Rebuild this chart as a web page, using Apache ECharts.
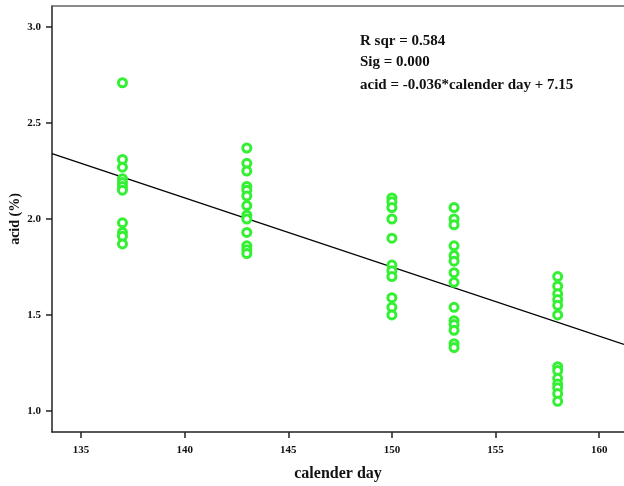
<!DOCTYPE html>
<html>
<head>
<meta charset="utf-8">
<script src="https://cdn.jsdelivr.net/npm/echarts@6/dist/echarts.min.js"></script>
<style>html,body{margin:0;padding:0;background:#fff}#c{width:624px;height:486px}</style>
</head>
<body>
<div id="c"></div>
<script>
const xTicks = [135, 140, 145, 150, 155, 160];
const yTicks = [1.0, 1.5, 2.0, 2.5, 3.0];
const day137 = [2.71, 2.31, 2.27, 2.21, 2.19, 2.17, 2.15, 1.98, 1.93, 1.91, 1.87];
const day143 = [2.37, 2.29, 2.25, 2.17, 2.15, 2.12, 2.07, 2.02, 2.00, 1.93, 1.86, 1.84, 1.82];
const day150 = [2.11, 2.09, 2.06, 2.00, 1.90, 1.76, 1.73, 1.70, 1.59, 1.54, 1.50];
const day153 = [2.06, 2.00, 1.97, 1.86, 1.81, 1.78, 1.72, 1.67, 1.54, 1.47, 1.45, 1.42, 1.35, 1.33];
const day158 = [1.70, 1.65, 1.61, 1.58, 1.55, 1.50, 1.23, 1.21, 1.17, 1.14, 1.12, 1.09, 1.05];
const groups = [[137, day137], [143, day143], [150, day150], [153, day153], [158, day158]];
const slope = -0.036, intercept = 7.15;
const xMin = 133.6, xMax = 161.2, yMin = 0.89, yMax = 3.11;

const points = [];
groups.forEach(([d, vals]) => vals.forEach(v => points.push([d, v])));
const fitLine = [[xMin, slope * xMin + intercept], [xMax, slope * xMax + intercept]];

const font = '"Liberation Serif", "Times New Roman", serif';
const chart = echarts.init(document.getElementById('c'), null, {renderer: 'canvas'});
chart.setOption({
  animation: false,
  backgroundColor: '#fff',
  grid: {left: 52, top: 6, right: 0, bottom: 54, containLabel: false, outerBoundsMode: 'none'},
  xAxis: [{
    type: 'value', min: xMin, max: xMax,
    name: 'calender day', nameLocation: 'middle', nameGap: 34, nameMoveOverlap: false,
    nameTextStyle: {fontFamily: font, fontWeight: 'bold', fontSize: 16, color: '#111'},
    axisLine: {show: true, lineStyle: {color: '#222', width: 1.5}},
    axisTick: {show: true, length: 6, lineStyle: {color: '#222', width: 1.5}, customValues: xTicks},
    axisLabel: {customValues: xTicks, fontFamily: font, fontWeight: 'bold', fontSize: 11, color: '#111', margin: 13},
    splitLine: {show: false}
  }, {
    type: 'value', position: 'top', min: xMin, max: xMax,
    axisLine: {show: true, lineStyle: {color: '#666', width: 1.5}},
    axisTick: {show: false}, axisLabel: {show: false}, splitLine: {show: false}
  }],
  yAxis: {
    type: 'value', min: yMin, max: yMax,
    name: 'acid (%)', nameLocation: 'middle', nameGap: 30, nameRotate: 90, nameMoveOverlap: false,
    nameTextStyle: {fontFamily: font, fontWeight: 'bold', fontSize: 14, color: '#111'},
    axisLine: {show: true, lineStyle: {color: '#222', width: 1.5}},
    axisTick: {show: true, length: 6, lineStyle: {color: '#222', width: 1.5}, customValues: yTicks},
    axisLabel: {customValues: yTicks, formatter: v => v.toFixed(1), fontFamily: font, fontWeight: 'bold', fontSize: 11, color: '#111', margin: 11},
    splitLine: {show: false}
  },
  series: [{
    type: 'line', data: fitLine, symbol: 'none', z: 3,
    lineStyle: {color: '#000', width: 1.3}
  }, {
    type: 'scatter', data: points, symbol: 'circle', symbolSize: 8, z: 4,
    itemStyle: {color: '#fff', borderColor: '#33f033', borderWidth: 3, opacity: 1}
  }],
  graphic: [
    {type: 'text', left: 360, top: 34, style: {text: 'R sqr = 0.584', font: 'bold 15px ' + font, fill: '#111'}},
    {type: 'text', left: 360, top: 55, style: {text: 'Sig = 0.000', font: 'bold 15px ' + font, fill: '#111'}},
    {type: 'text', left: 360, top: 78, style: {text: 'acid = -0.036*calender day + 7.15', font: 'bold 15px ' + font, fill: '#111'}}
  ]
});
</script>
</body>
</html>
